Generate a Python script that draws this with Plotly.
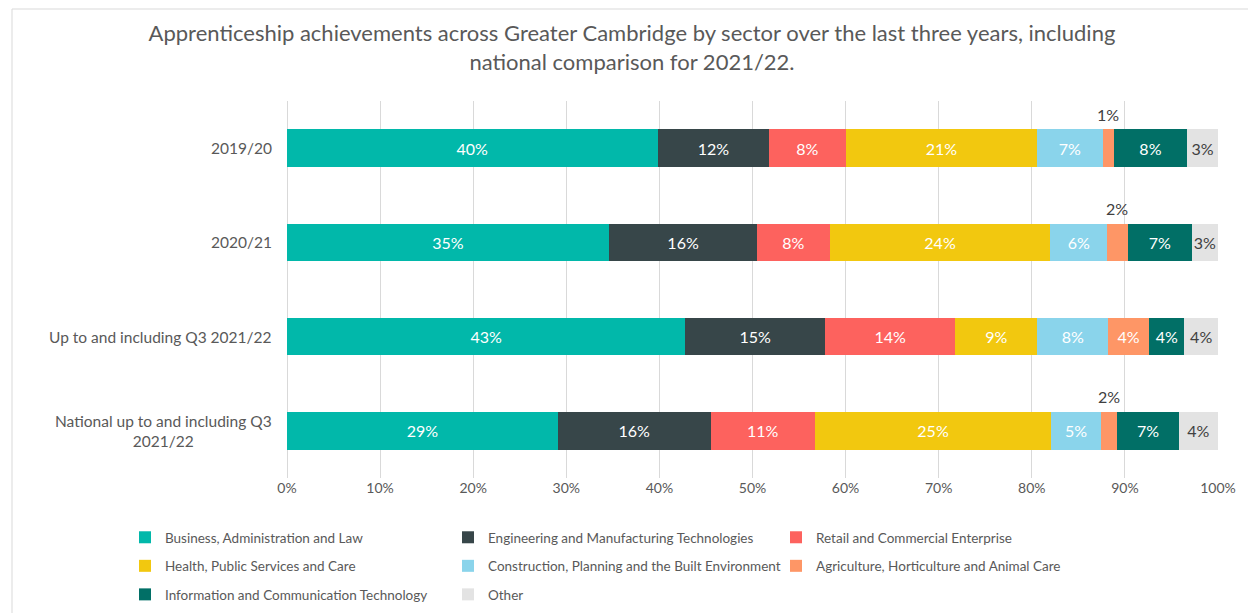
import plotly.graph_objects as go

# ---------------- data ----------------
categories = ["2019/20", "2020/21", "Up to and including Q3 2021/22",
              "National up to and including Q3<br>2021/22"]

sectors = ["Business, Administration and Law",
           "Engineering and Manufacturing Technologies",
           "Retail and Commercial Enterprise",
           "Health, Public Services and Care",
           "Construction, Planning and the Built Environment",
           "Agriculture, Horticulture and Animal Care",
           "Information and Communication Technology",
           "Other"]

business = [39.8, 34.6, 42.8, 29.1]
engineering = [12.0, 15.9, 15.0, 16.4]
retail = [8.2, 7.8, 14.0, 11.2]
health = [20.6, 23.7, 8.8, 25.4]
construction = [7.0, 6.1, 7.6, 5.3]
agriculture = [1.2, 2.2, 4.4, 1.8]
ict = [7.9, 6.9, 3.8, 6.6]
other = [3.3, 2.8, 3.6, 4.2]

series = [business, engineering, retail, health, construction, agriculture, ict, other]

x_ticks = [0, 10, 20, 30, 40, 50, 60, 70, 80, 90, 100]
x_tick_labels = [f"{t}%" for t in x_ticks]

# ---------------- style ----------------
colors = ["#01B8AA", "#374649", "#FD625E", "#F2C80F",
          "#8AD4EB", "#FE9666", "#016F66", "#E3E3E3"]
text_colors = ["white"] * 7 + ["#404040"]
FONT = "Lato"
GREY = "#595959"

OFF = 8  # page body margin
W, H = 1256 - OFF, 613 - OFF
L, T = 287 - OFF, 101 - OFF
PW, PH = 931, 377
R, B = W - L - PW, H - T - PH


def px_x(px):  # reference screen px -> paper x
    return (px - OFF - L) / PW


def px_y(py):  # reference screen px -> paper y
    return (T + PH - (py - OFF)) / PH


legend_cols = ["legend", "legend2", "legend3"]

fig = go.Figure()
annotations = []
cum = [0.0] * len(categories)
for i, (name, vals) in enumerate(zip(sectors, series)):
    texts = [f"{v:.0f}%" if v >= 2.5 else "" for v in vals]
    fig.add_trace(go.Bar(
        y=categories, x=vals, name=name, orientation="h",
        marker=dict(color=colors[i], line=dict(width=0)),
        text=texts, textposition="inside", insidetextanchor="middle",
        textangle=0, constraintext="none",
        textfont=dict(color=text_colors[i], size=16, family=FONT),
        legend=legend_cols[i % 3], legendgroup=name,
        hoverinfo="x+name",
    ))
    for j, v in enumerate(vals):
        if v < 2.5:
            annotations.append(dict(
                x=cum[j] + v / 2, y=categories[j], xref="x", yref="y",
                text=f"{v:.0f}%", showarrow=False, yshift=34,
                font=dict(size=16, color="#404040", family=FONT)))
        cum[j] += v

for c in categories:
    annotations.append(dict(
        x=0, y=c, xref="paper", yref="y", text=c, showarrow=False,
        xanchor="right", align="center", xshift=-13,
        font=dict(size=15.5, color=GREY, family=FONT)))

legend_common = dict(orientation="v", xanchor="left", yanchor="top",
                     font=dict(size=13.5, color=GREY, family=FONT),
                     traceorder="grouped", tracegroupgap=8,
                     bgcolor="rgba(0,0,0,0)", itemwidth=30)
leg_y = px_y(522)

fig.update_layout(
    width=W, height=H,
    margin=dict(l=L, r=R, t=T, b=B, autoexpand=False),
    paper_bgcolor="white", plot_bgcolor="white",
    barmode="stack", bargap=0.6,
    font=dict(family=FONT, color=GREY, size=14),
    title=dict(text="Apprenticeship achievements across Greater Cambridge by sector over the last three years, including<br>national comparison for 2021/22.",
               x=(632 - OFF) / W, xanchor="center", y=1 - 33 / H, yanchor="top",
               font=dict(size=22, color=GREY, family=FONT)),
    xaxis=dict(range=[0, 100], tickvals=x_ticks, ticktext=x_tick_labels,
               showgrid=True, gridcolor="#D9D9D9", gridwidth=1,
               zeroline=True, zerolinecolor="#D9D9D9", zerolinewidth=1,
               showline=False, ticks="", fixedrange=True,
               tickfont=dict(size=14, color=GREY, family=FONT)),
    yaxis=dict(autorange="reversed", showticklabels=False, showgrid=False,
               zeroline=False, ticks="", fixedrange=True),
    legend=dict(x=px_x(125), y=leg_y, **legend_common),
    legend2=dict(x=px_x(448), y=leg_y, **legend_common),
    legend3=dict(x=px_x(776), y=leg_y, **legend_common),
    annotations=annotations,
    shapes=[dict(type="rect", xref="paper", yref="paper",
                 x0=px_x(12), x1=px_x(1251), y0=px_y(640), y1=px_y(9),
                 line=dict(color="#D9D9D9", width=1), layer="below")],
    showlegend=True,
)

fig.write_html("out.html")
